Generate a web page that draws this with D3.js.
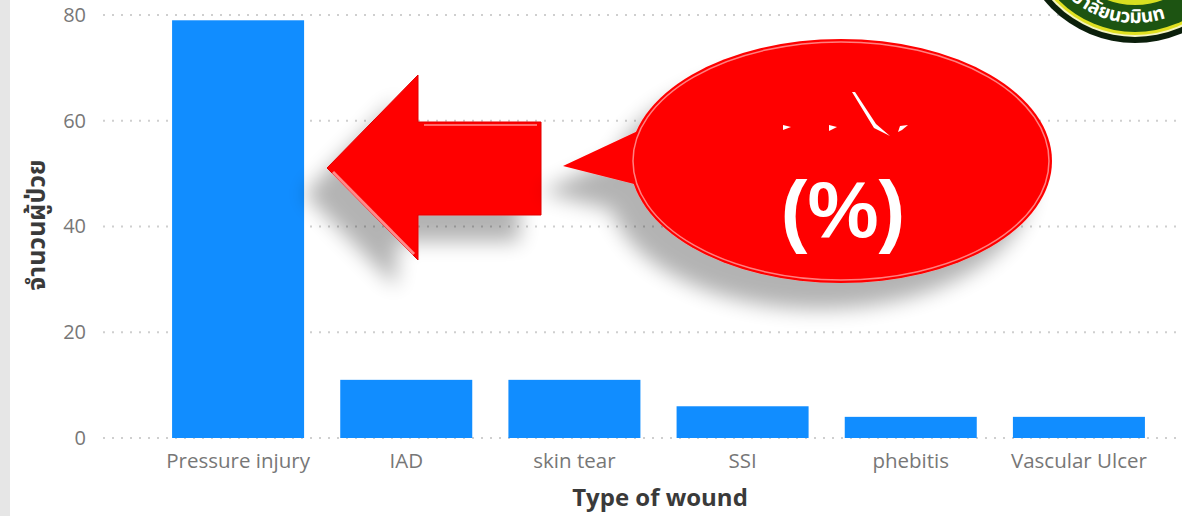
<!DOCTYPE html>
<html>
<head>
<meta charset="utf-8">
<script src="https://cdn.jsdelivr.net/npm/d3@7"></script>
<style>
  body { margin: 0; background: #fff; }
  svg { display: block; }
</style>
</head>
<body>
<div id="chart"></div>
<script>
const categories = ["Pressure injury", "IAD", "skin tear", "SSI", "phebitis", "Vascular Ulcer"];
const patients = [79, 11, 11, 6, 4, 4];
const yTicks = [0, 20, 40, 60, 80];

const width = 1182;
const height = 516;

const svg = d3.select("#chart").append("svg")
  .attr("width", width)
  .attr("height", height);

const defs = svg.append("defs");

// soft grey drop shadow for the arrow and the bubble
const shadow = defs.append("filter")
  .attr("id", "shadow")
  .attr("x", "-40%").attr("y", "-40%")
  .attr("width", "180%").attr("height", "180%");
shadow.append("feGaussianBlur").attr("in", "SourceAlpha").attr("stdDeviation", 10).attr("result", "blur");
shadow.append("feOffset").attr("dx", -22).attr("dy", 26).attr("result", "off");
shadow.append("feComponentTransfer").attr("result", "soft")
  .append("feFuncA").attr("type", "linear").attr("slope", 0.3);
const merge = shadow.append("feMerge");
merge.append("feMergeNode").attr("in", "soft");
merge.append("feMergeNode").attr("in", "SourceGraphic");

// light grey strip at the left edge
svg.append("rect")
  .attr("width", 10)
  .attr("height", height)
  .style("fill", "#e6e6e6");

const x = d3.scaleBand()
  .domain(categories)
  .range([154, 1163])
  .paddingInner(0.215)
  .paddingOuter(0.1075);

const y = d3.scaleLinear()
  .domain([0, 80])
  .range([438, 15]);

// dotted gridlines
svg.append("g").selectAll("line").data(yTicks).enter().append("line")
  .attr("x1", 103)
  .attr("x2", 1180)
  .attr("y1", (d) => y(d))
  .attr("y2", (d) => y(d))
  .style("stroke", "#cfcfcf")
  .style("stroke-width", 2)
  .style("stroke-dasharray", "2 7");

// y axis labels
const yAxis = svg.append("g")
  .attr("transform", "translate(86,0)")
  .call(d3.axisLeft(y).tickValues(yTicks).tickSize(0).tickPadding(0));
yAxis.select(".domain").remove();
yAxis.selectAll("text")
  .style("font-family", "'Open Sans', sans-serif")
  .style("font-size", "20px")
  .style("fill", "#777");

// bars
svg.append("g").selectAll("rect").data(categories).enter().append("rect")
  .attr("x", (d) => x(d))
  .attr("y", (d, i) => y(patients[i]))
  .attr("width", x.bandwidth())
  .attr("height", (d, i) => y(0) - y(patients[i]))
  .style("fill", "#118dff");

// x axis labels
const xAxis = svg.append("g")
  .attr("transform", "translate(0,449)")
  .call(d3.axisBottom(x).tickSize(0).tickPadding(0));
xAxis.select(".domain").remove();
xAxis.selectAll("text")
  .attr("dy", "0.95em")
  .style("font-family", "'Open Sans', sans-serif")
  .style("font-size", "20.5px")
  .style("fill", "#777");

// axis titles
svg.append("text")
  .attr("x", 660)
  .attr("y", 506)
  .attr("text-anchor", "middle")
  .style("font-family", "'Open Sans', sans-serif")
  .style("font-weight", "bold")
  .style("font-size", "24px")
  .style("fill", "#3a3a3a")
  .text("Type of wound");

svg.append("text")
  .attr("transform", "translate(45,225) rotate(-90)")
  .attr("text-anchor", "middle")
  .style("font-family", "'Noto Sans Thai', 'Noto Sans', 'DejaVu Sans', sans-serif")
  .style("font-weight", "bold")
  .style("font-size", "25px")
  .style("fill", "#3a3a3a")
  .text("จำนวนผู้ป่วย");

// red arrow pointing at the first bar
const arrow = svg.append("g").attr("filter", "url(#shadow)");
const arrowPts = [[327, 168], [418, 75], [418, 122], [541, 122], [541, 215], [418, 215], [418, 260]];
arrow.append("path")
  .attr("d", d3.line()(arrowPts) + "Z")
  .style("fill", "#ff0000")
  .style("stroke", "#e00000")
  .style("stroke-width", 1);
// bevel highlights
arrow.append("path")
  .attr("d", d3.line()([[333, 172], [414, 254]]))
  .style("stroke", "#ff8a8a")
  .style("stroke-width", 3);
arrow.append("path")
  .attr("d", d3.line()([[424, 125], [537, 125]]))
  .style("stroke", "#ff6a6a")
  .style("stroke-width", 2);

// speech bubble
const bubble = svg.append("g").attr("filter", "url(#shadow)");
bubble.append("path")
  .attr("d", d3.line()([[563, 166], [640, 130], [650, 188]]) + "Z")
  .style("fill", "#ff0000");
bubble.append("ellipse")
  .attr("cx", 841)
  .attr("cy", 161)
  .attr("rx", 211)
  .attr("ry", 122)
  .style("fill", "#ff0000");
svg.append("ellipse")
  .attr("cx", 841)
  .attr("cy", 161)
  .attr("rx", 208)
  .attr("ry", 119)
  .style("fill", "none")
  .style("stroke", "#ff8080")
  .style("stroke-width", 1.5);

// broken glyph fragments above the percent sign
const marks = svg.append("g").style("fill", "#fff");
marks.append("path").attr("d", "M783,125 L791,127 L783,130 Z");
marks.append("path").attr("d", "M829,125 L837,127 L829,131 Z");
marks.append("path").attr("d", "M852,92 L855,92 L876,124 L890,136 L874,128 Z");
marks.append("path").attr("d", "M900,126 L908,125 L902,130 L898,132 Z");

svg.append("text")
  .attr("x", 843)
  .attr("y", 237)
  .attr("text-anchor", "middle")
  .style("font-family", "'Liberation Sans Narrow', 'Liberation Sans', sans-serif")
  .style("font-weight", "bold")
  .style("font-size", "80px")
  .style("fill", "#fff")
  .text("(%)");

// logo in the top right corner
const logo = svg.append("g").attr("transform", "translate(1135,-75)");
const rings = [[118, "#0b1f0b"], [112, "#f4f4c0"], [110, "#e0e020"], [107, "#1d5412"], [80, "#d8e020"], [74, "#2b6b1c"]];
logo.selectAll("circle").data(rings).enter().append("circle")
  .attr("r", (d) => d[0])
  .style("fill", (d) => d[1]);
defs.append("path")
  .attr("id", "logoArc")
  .attr("d", "M-98,0 A98,98 0 0,0 98,0");
logo.append("text")
  .style("font-family", "'Noto Sans Thai', 'Noto Sans', 'DejaVu Sans', sans-serif")
  .style("font-size", "19px")
  .style("font-weight", "bold")
  .style("fill", "#fff")
  .append("textPath")
  .attr("href", "#logoArc")
  .attr("startOffset", "23%")
  .text("ทยาลัยนวมินท");
</script>
</body>
</html>
